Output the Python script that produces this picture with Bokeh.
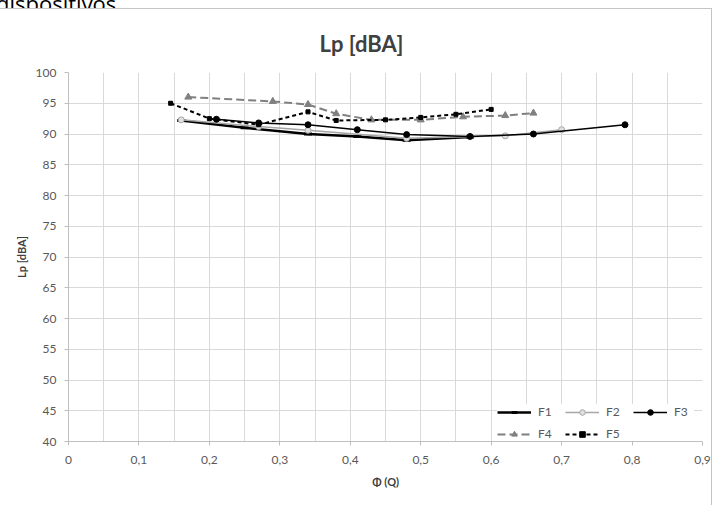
from bokeh.plotting import figure
from bokeh.layouts import column
from bokeh.models import (Range1d, FixedTicker, Legend, LegendItem, Div,
                          CustomJSTickFormatter)
from bokeh.embed import file_html
from bokeh.resources import INLINE

# ---- data ----
f1_x = [0.16, 0.25, 0.34, 0.41, 0.48, 0.57]
f1_y = [92.2, 91.0, 90.0, 89.6, 89.0, 89.5]

f2_x = [0.16, 0.27, 0.34, 0.48, 0.62, 0.70]
f2_y = [92.3, 91.2, 90.6, 89.3, 89.7, 90.7]

f3_x = [0.21, 0.27, 0.34, 0.41, 0.48, 0.57, 0.66, 0.79]
f3_y = [92.4, 91.8, 91.5, 90.7, 89.9, 89.6, 90.0, 91.5]

f4_x = [0.17, 0.29, 0.34, 0.38, 0.43, 0.50, 0.56, 0.62, 0.66]
f4_y = [96.0, 95.3, 94.8, 93.3, 92.3, 92.3, 92.8, 93.0, 93.4]

f5_x = [0.145, 0.20, 0.27, 0.34, 0.38, 0.45, 0.50, 0.55, 0.60]
f5_y = [95.0, 92.5, 91.5, 93.6, 92.2, 92.3, 92.7, 93.2, 94.0]

x_ticks = [0, 0.1, 0.2, 0.3, 0.4, 0.5, 0.6, 0.7, 0.8, 0.9]
x_minor = [0.05, 0.15, 0.25, 0.35, 0.45, 0.55, 0.65, 0.75, 0.85]
y_ticks = [40, 45, 50, 55, 60, 65, 70, 75, 80, 85, 90, 95, 100]

FONT = "Lato"
TICK_COL = "#595959"
GRID_COL = "#d9d9d9"

p = figure(width=712, height=497, output_backend="svg", toolbar_location=None,
           x_range=Range1d(0, 0.9), y_range=Range1d(40, 100),
           min_border_left=68, min_border_right=10, min_border_top=63,
           min_border_bottom=65, title="Lp [dBA]")
p.styles = {"border-top": "1px solid #c4c4c4", "border-right": "1px solid #c4c4c4"}

p.outline_line_color = None
p.background_fill_color = "white"
p.border_fill_color = "white"

p.title.align = "left"
p.title.text_font = FONT
p.title.text_font_size = "22px"
p.title.text_font_style = "bold"
p.title.text_color = "#404040"
p.title.offset = 251
p.title.standoff = 31

# grids
p.xgrid.ticker = FixedTicker(ticks=x_ticks, minor_ticks=x_minor)
p.xgrid.grid_line_color = GRID_COL
p.xgrid.minor_grid_line_color = GRID_COL
p.ygrid.grid_line_color = GRID_COL

# axes
p.xaxis.ticker = FixedTicker(ticks=x_ticks, minor_ticks=x_minor)
p.yaxis.ticker = FixedTicker(ticks=y_ticks)
p.xaxis.formatter = CustomJSTickFormatter(code="return tick.toString().replace('.', ',');")
for ax in (p.xaxis[0], p.yaxis[0]):
    ax.axis_line_color = "#bfbfbf"
    ax.major_tick_line_color = "#bfbfbf"
    ax.major_tick_out = 4
    ax.major_tick_in = 0
    ax.minor_tick_line_color = None
    ax.major_label_text_font = FONT
    ax.major_label_text_font_size = "12px"
    ax.major_label_text_color = TICK_COL
    ax.axis_label_text_font = FONT
    ax.axis_label_text_font_size = "11px"
    ax.axis_label_text_font_style = "bold"
    ax.axis_label_text_color = "#404040"
p.xaxis.axis_label = "Φ (Q)"
p.yaxis.axis_label = "Lp [dBA]"
p.xaxis.major_label_standoff = 10
p.yaxis.major_label_standoff = 8
p.xaxis.axis_label_standoff = 8

# series
l1 = p.line(f1_x, f1_y, line_color="black", line_width=2.5)
m1 = p.scatter(f1_x, f1_y, marker="dash", size=8, line_color="black", line_width=3)
l2 = p.line(f2_x, f2_y, line_color="#a6a6a6", line_width=1.5)
m2 = p.scatter(f2_x, f2_y, marker="circle", size=6, fill_color="#e0e0e0", line_color="#a6a6a6")
l3 = p.line(f3_x, f3_y, line_color="black", line_width=1.5)
m3 = p.scatter(f3_x, f3_y, marker="circle", size=6, fill_color="black", line_color="black")
l4 = p.line(f4_x, f4_y, line_color="#808080", line_width=2, line_dash="8 4")
m4 = p.scatter(f4_x, f4_y, marker="triangle", size=7, fill_color="#808080", line_color="#808080")
l5 = p.line(f5_x, f5_y, line_color="black", line_width=2, line_dash="4 3")
m5 = p.scatter(f5_x, f5_y, marker="square", size=4, fill_color="black", line_color="black")

legend = Legend(items=[
    LegendItem(label="F1", renderers=[l1, m1]),
    LegendItem(label="F2", renderers=[l2, m2]),
    LegendItem(label="F3", renderers=[l3, m3]),
    LegendItem(label="F4", renderers=[l4, m4]),
    LegendItem(label="F5", renderers=[l5, m5]),
], orientation="horizontal", ncols=3, location=(429, 0))
legend.label_text_font = FONT
legend.label_text_font_size = "12px"
legend.label_text_color = TICK_COL
legend.glyph_width = 34
legend.glyph_height = 14
legend.label_height = 14
legend.label_width = 20
legend.label_standoff = 7
legend.spacing = 7
legend.padding = 4
legend.margin = 0
legend.border_line_color = None
legend.background_fill_color = "white"
legend.background_fill_alpha = 1
p.add_layout(legend)

# page text above the chart box, cut off at the top of the window
top_text = Div(text='<div style="font-family:\'Open Sans\'; font-size:22px; line-height:22px;'
                    ' margin-top:-14px; margin-left:-4px; color:#000; white-space:nowrap">'
                    'dispositivos.</div>',
               width=718, height=8, styles={"overflow": "hidden", "margin": "0", "padding": "0"})

layout = column(top_text, p, spacing=0)

open("out.html", "w").write(file_html(layout, INLINE))
